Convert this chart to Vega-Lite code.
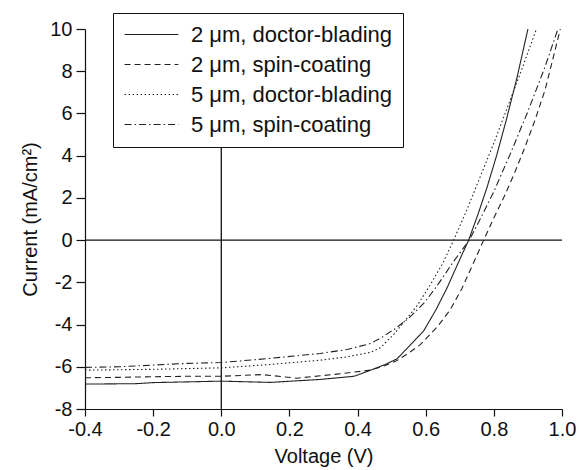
{
  "$schema": "https://vega.github.io/schema/vega-lite/v6.json",
  "width": 477,
  "height": 380,
  "autosize": {"type": "none"},
  "padding": {"left": 85, "top": 29, "right": 17, "bottom": 61},
  "config": {
    "font": "Liberation Sans",
    "view": {"stroke": null},
    "axis": {
      "domainColor": "#111",
      "tickColor": "#111",
      "labelColor": "#111",
      "titleColor": "#111",
      "labelFontSize": 20,
      "titleFontSize": 20,
      "titleFontWeight": "normal",
      "grid": false,
      "domainWidth": 1.2,
      "tickWidth": 1.2
    }
  },
  "datasets": {
    "curves": [
      {"s": "2 μm, doctor-blading", "v": -0.4, "i": -6.82},
      {"s": "2 μm, doctor-blading", "v": -0.25, "i": -6.8},
      {"s": "2 μm, doctor-blading", "v": -0.2, "i": -6.75},
      {"s": "2 μm, doctor-blading", "v": 0.0, "i": -6.68},
      {"s": "2 μm, doctor-blading", "v": 0.144, "i": -6.74},
      {"s": "2 μm, doctor-blading", "v": 0.29, "i": -6.6},
      {"s": "2 μm, doctor-blading", "v": 0.39, "i": -6.45},
      {"s": "2 μm, doctor-blading", "v": 0.44, "i": -6.15},
      {"s": "2 μm, doctor-blading", "v": 0.48, "i": -5.9},
      {"s": "2 μm, doctor-blading", "v": 0.516, "i": -5.62},
      {"s": "2 μm, doctor-blading", "v": 0.55, "i": -5.05},
      {"s": "2 μm, doctor-blading", "v": 0.594, "i": -4.3},
      {"s": "2 μm, doctor-blading", "v": 0.63, "i": -3.3},
      {"s": "2 μm, doctor-blading", "v": 0.663, "i": -2.25},
      {"s": "2 μm, doctor-blading", "v": 0.692, "i": -1.2},
      {"s": "2 μm, doctor-blading", "v": 0.726, "i": 0.0},
      {"s": "2 μm, doctor-blading", "v": 0.753, "i": 1.2},
      {"s": "2 μm, doctor-blading", "v": 0.78, "i": 2.5},
      {"s": "2 μm, doctor-blading", "v": 0.808, "i": 4.0},
      {"s": "2 μm, doctor-blading", "v": 0.835, "i": 5.6},
      {"s": "2 μm, doctor-blading", "v": 0.868, "i": 7.7},
      {"s": "2 μm, doctor-blading", "v": 0.9, "i": 10.0},

      {"s": "2 μm, spin-coating", "v": -0.4, "i": -6.52},
      {"s": "2 μm, spin-coating", "v": -0.3, "i": -6.5},
      {"s": "2 μm, spin-coating", "v": -0.2, "i": -6.47},
      {"s": "2 μm, spin-coating", "v": -0.1, "i": -6.45},
      {"s": "2 μm, spin-coating", "v": 0.0, "i": -6.45},
      {"s": "2 μm, spin-coating", "v": 0.12, "i": -6.37},
      {"s": "2 μm, spin-coating", "v": 0.222, "i": -6.54},
      {"s": "2 μm, spin-coating", "v": 0.34, "i": -6.35},
      {"s": "2 μm, spin-coating", "v": 0.4376, "i": -6.16},
      {"s": "2 μm, spin-coating", "v": 0.48, "i": -5.95},
      {"s": "2 μm, spin-coating", "v": 0.516, "i": -5.7},
      {"s": "2 μm, spin-coating", "v": 0.55, "i": -5.35},
      {"s": "2 μm, spin-coating", "v": 0.584, "i": -4.95},
      {"s": "2 μm, spin-coating", "v": 0.634, "i": -4.11},
      {"s": "2 μm, spin-coating", "v": 0.672, "i": -3.3},
      {"s": "2 μm, spin-coating", "v": 0.706, "i": -2.3},
      {"s": "2 μm, spin-coating", "v": 0.741, "i": -1.05},
      {"s": "2 μm, spin-coating", "v": 0.77, "i": 0.0},
      {"s": "2 μm, spin-coating", "v": 0.8, "i": 1.05},
      {"s": "2 μm, spin-coating", "v": 0.83, "i": 2.05},
      {"s": "2 μm, spin-coating", "v": 0.86, "i": 3.15},
      {"s": "2 μm, spin-coating", "v": 0.89, "i": 4.35},
      {"s": "2 μm, spin-coating", "v": 0.92, "i": 5.65},
      {"s": "2 μm, spin-coating", "v": 0.95, "i": 7.1},
      {"s": "2 μm, spin-coating", "v": 0.972, "i": 8.5},
      {"s": "2 μm, spin-coating", "v": 0.995, "i": 10.0},

      {"s": "5 μm, doctor-blading", "v": -0.4, "i": -6.16},
      {"s": "5 μm, doctor-blading", "v": -0.2, "i": -6.12},
      {"s": "5 μm, doctor-blading", "v": 0.0, "i": -6.05},
      {"s": "5 μm, doctor-blading", "v": 0.144, "i": -5.89},
      {"s": "5 μm, doctor-blading", "v": 0.29, "i": -5.69},
      {"s": "5 μm, doctor-blading", "v": 0.369, "i": -5.53},
      {"s": "5 μm, doctor-blading", "v": 0.4376, "i": -5.32},
      {"s": "5 μm, doctor-blading", "v": 0.467, "i": -5.1},
      {"s": "5 μm, doctor-blading", "v": 0.51, "i": -4.4},
      {"s": "5 μm, doctor-blading", "v": 0.545, "i": -3.7},
      {"s": "5 μm, doctor-blading", "v": 0.575, "i": -3.1},
      {"s": "5 μm, doctor-blading", "v": 0.614, "i": -2.1},
      {"s": "5 μm, doctor-blading", "v": 0.65, "i": -1.1},
      {"s": "5 μm, doctor-blading", "v": 0.682, "i": 0.0},
      {"s": "5 μm, doctor-blading", "v": 0.72, "i": 1.4},
      {"s": "5 μm, doctor-blading", "v": 0.76, "i": 3.0},
      {"s": "5 μm, doctor-blading", "v": 0.8, "i": 4.6},
      {"s": "5 μm, doctor-blading", "v": 0.84, "i": 6.3},
      {"s": "5 μm, doctor-blading", "v": 0.88, "i": 8.0},
      {"s": "5 μm, doctor-blading", "v": 0.925, "i": 10.0},

      {"s": "5 μm, spin-coating", "v": -0.4, "i": -6.03},
      {"s": "5 μm, spin-coating", "v": -0.3, "i": -6.0},
      {"s": "5 μm, spin-coating", "v": -0.2, "i": -5.92},
      {"s": "5 μm, spin-coating", "v": -0.1, "i": -5.84},
      {"s": "5 μm, spin-coating", "v": 0.0, "i": -5.8},
      {"s": "5 μm, spin-coating", "v": 0.144, "i": -5.6},
      {"s": "5 μm, spin-coating", "v": 0.29, "i": -5.37},
      {"s": "5 μm, spin-coating", "v": 0.37, "i": -5.18},
      {"s": "5 μm, spin-coating", "v": 0.4376, "i": -4.9},
      {"s": "5 μm, spin-coating", "v": 0.47, "i": -4.62},
      {"s": "5 μm, spin-coating", "v": 0.51, "i": -4.2},
      {"s": "5 μm, spin-coating", "v": 0.55, "i": -3.7},
      {"s": "5 μm, spin-coating", "v": 0.594, "i": -3.0},
      {"s": "5 μm, spin-coating", "v": 0.625, "i": -2.35},
      {"s": "5 μm, spin-coating", "v": 0.653, "i": -1.7},
      {"s": "5 μm, spin-coating", "v": 0.68, "i": -1.05},
      {"s": "5 μm, spin-coating", "v": 0.705, "i": -0.5},
      {"s": "5 μm, spin-coating", "v": 0.728, "i": 0.0},
      {"s": "5 μm, spin-coating", "v": 0.76, "i": 1.0},
      {"s": "5 μm, spin-coating", "v": 0.8, "i": 2.3},
      {"s": "5 μm, spin-coating", "v": 0.85, "i": 4.15},
      {"s": "5 μm, spin-coating", "v": 0.9, "i": 6.1},
      {"s": "5 μm, spin-coating", "v": 0.95, "i": 8.2},
      {"s": "5 μm, spin-coating", "v": 0.988, "i": 10.0}
    ],
    "hzero": [{"i": 0}],
    "vzero": [{"v": 0}]
  },
  "layer": [
    {
      "data": {"name": "hzero"},
      "mark": {"type": "rule", "color": "#111", "strokeWidth": 1.3},
      "encoding": {"y": {"field": "i", "type": "quantitative", "scale": {"domain": [-8, 10]}}}
    },
    {
      "data": {"name": "vzero"},
      "mark": {"type": "rule", "color": "#111", "strokeWidth": 1.3},
      "encoding": {"x": {"field": "v", "type": "quantitative", "scale": {"domain": [-0.4, 1.0]}}}
    },
    {
      "data": {"name": "curves"},
      "mark": {"type": "line", "color": "#222", "strokeWidth": 1.1, "clip": true},
      "encoding": {
        "x": {
          "field": "v", "type": "quantitative",
          "scale": {"domain": [-0.4, 1.0], "nice": false, "zero": false},
          "axis": {
            "title": "Voltage (V)",
            "values": [-0.4, -0.3, -0.2, -0.1, 0, 0.1, 0.2, 0.3, 0.4, 0.5, 0.6, 0.7, 0.8, 0.9, 1.0],
            "format": ".1f",
            "labelExpr": "abs(round(datum.value*10)) % 2 == 0 ? replace(datum.label, '−', '-') : ''",
            "tickSize": {"condition": {"test": "abs(round(datum.value*10)) % 2 == 1", "value": 4.5}, "value": 7},
            "labelFontSize": 20,
            "titleFontSize": 20,
            "labelPadding": 3,
            "titlePadding": 7,
            "labelFlush": false,
            "labelOverlap": false
          }
        },
        "y": {
          "field": "i", "type": "quantitative",
          "scale": {"domain": [-8, 10], "nice": false, "zero": false},
          "axis": {
            "title": "Current (mA/cm²)",
            "values": [-8, -7, -6, -5, -4, -3, -2, -1, 0, 1, 2, 3, 4, 5, 6, 7, 8, 9, 10],
            "format": "d",
            "labelExpr": "abs(round(datum.value)) % 2 == 0 ? replace(datum.label, '−', '-') : ''",
            "tickSize": {"condition": {"test": "abs(round(datum.value)) % 2 == 1", "value": 5}, "value": 9},
            "labelFontSize": 20,
            "titleFontSize": 20,
            "labelPadding": 4,
            "titlePadding": 9,
            "labelFlush": false,
            "labelOverlap": false
          }
        },
        "strokeDash": {
          "field": "s", "type": "nominal",
          "scale": {
            "domain": ["2 μm, doctor-blading", "2 μm, spin-coating", "5 μm, doctor-blading", "5 μm, spin-coating"],
            "range": [[1, 0], [6, 4], [1.5, 2.5], [7, 3, 1.5, 3]]
          },
          "legend": {
            "title": null,
            "orient": "none",
            "legendX": 28,
            "legendY": -16,
            "fillColor": "white",
            "strokeColor": "#111",
            "padding": 11,
            "symbolType": "stroke",
            "symbolSize": 2900,
            "symbolStrokeColor": "#222",
            "symbolStrokeWidth": 1.1,
            "labelFontSize": 22,
            "labelColor": "#111",
            "labelOffset": 12,
            "clipHeight": 21,
            "rowPadding": 7,
            "labelLimit": 300
          }
        }
      }
    }
  ]
}
